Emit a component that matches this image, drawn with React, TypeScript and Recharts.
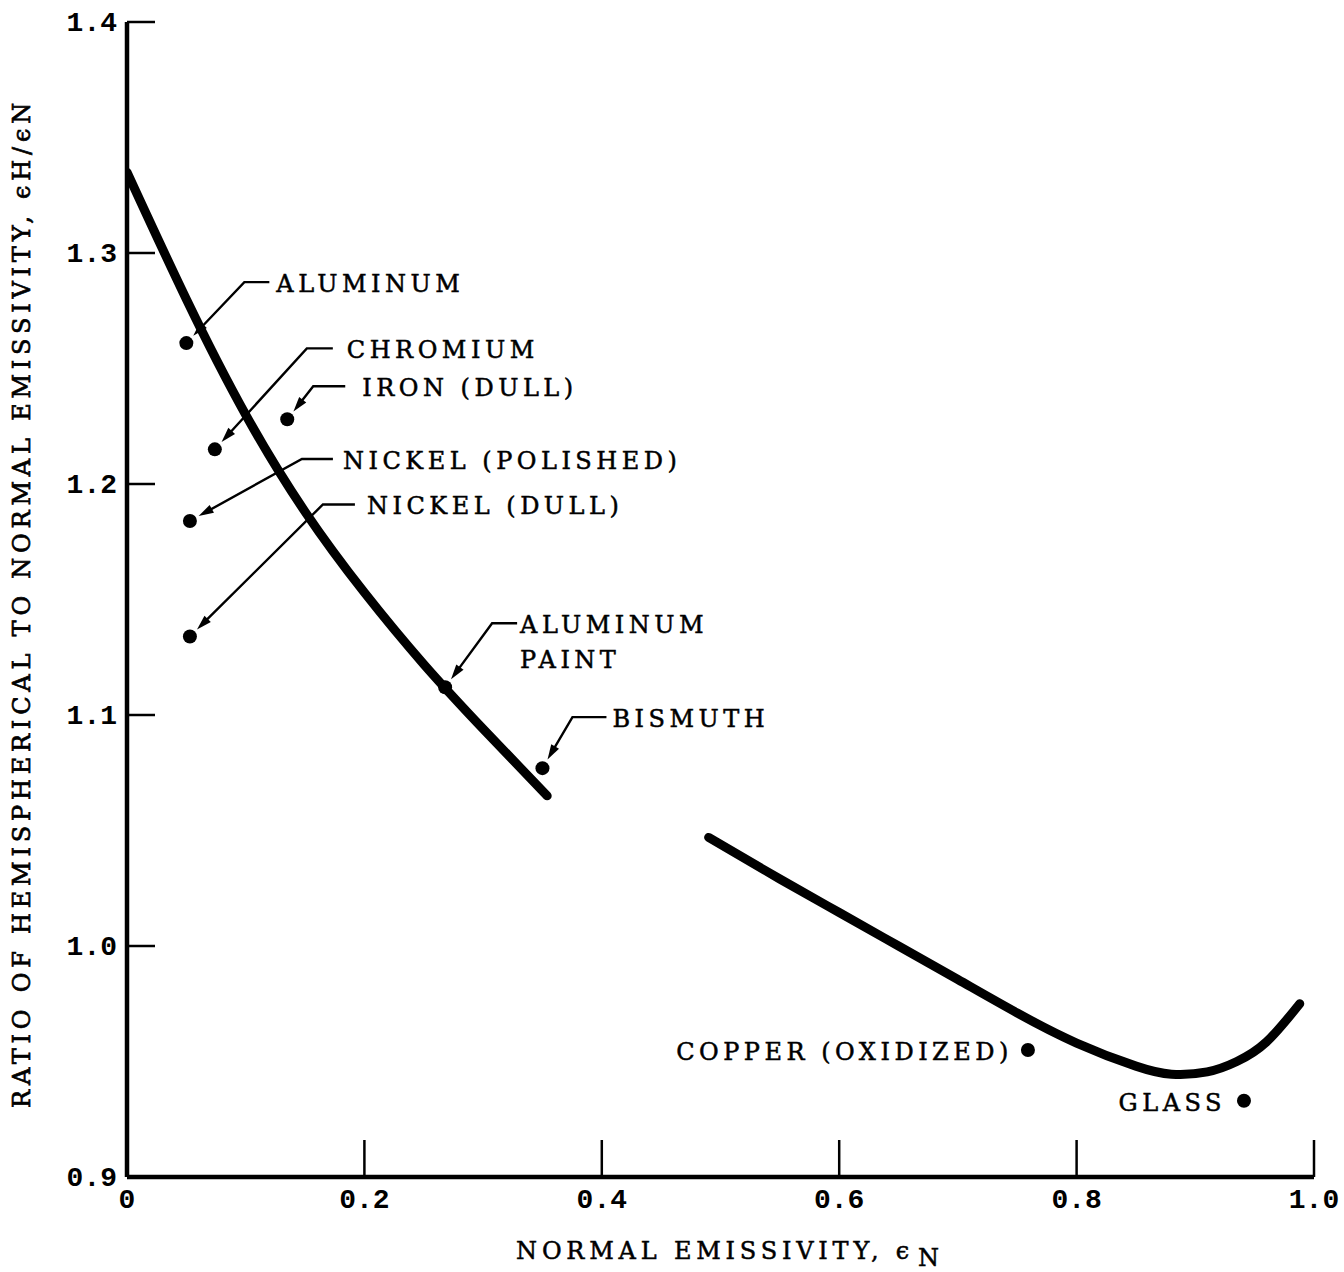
import React from 'react';
import { ComposedChart, Line, Scatter, XAxis, YAxis } from 'recharts';

// ---- data ----
const curveAX = [0, 0.05, 0.1, 0.15, 0.2, 0.25, 0.3, 0.354];
const curveAY = [1.335, 1.28, 1.23, 1.188, 1.153, 1.122, 1.094, 1.065];
const curveBX = [0.49, 0.55, 0.6, 0.65, 0.7, 0.75, 0.8, 0.85, 0.88, 0.91, 0.935, 0.96, 0.988];
const curveBY = [1.047, 1.029, 1.0145, 1.0, 0.9855, 0.971, 0.958, 0.948, 0.9445, 0.9455, 0.95, 0.9585, 0.975];

const materials = ['ALUMINUM', 'CHROMIUM', 'IRON (DULL)', 'NICKEL (POLISHED)', 'NICKEL (DULL)', 'ALUMINUM PAINT', 'BISMUTH', 'COPPER (OXIDIZED)', 'GLASS'];
const matEmissivity = [0.05, 0.074, 0.135, 0.053, 0.053, 0.268, 0.35, 0.759, 0.941];
const matRatio = [1.261, 1.215, 1.228, 1.184, 1.134, 1.112, 1.077, 0.955, 0.933];

const xTicks = [0, 0.2, 0.4, 0.6, 0.8, 1.0];
const yTicks = [0.9, 1.0, 1.1, 1.2, 1.3, 1.4];

const xTitle = 'NORMAL EMISSIVITY, \u03F5';
const xTitleSub = 'N';
const yTitle = 'RATIO OF HEMISPHERICAL TO NORMAL EMISSIVITY, \u03F5H/\u03F5N';

// ---- built tables ----
const curveA = curveAX.map((x, i) => ({ x, y: curveAY[i] }));
const curveB = curveBX.map((x, i) => ({ x, y: curveBY[i] }));
const points = materials.map((name, i) => ({ name, x: matEmissivity[i], y: matRatio[i] }));

// ---- label styling (pixel offsets relative to the dot) ----
type LabelStyle = { elbow?: [number, number]; h?: number; gap?: number; anchor?: 'start' | 'end'; dx?: number; dy?: number; lines?: string[] };
const labelStyle: Record<string, LabelStyle> = {
  'ALUMINUM': { elbow: [58, -61], h: 25, gap: 7 },
  'CHROMIUM': { elbow: [92, -101], h: 26, gap: 14 },
  'IRON (DULL)': { elbow: [26, -33], h: 32, gap: 17 },
  'NICKEL (POLISHED)': { elbow: [112, -62], h: 31, gap: 10 },
  'NICKEL (DULL)': { elbow: [133, -132], h: 32, gap: 12 },
  'ALUMINUM PAINT': { elbow: [47, -64], h: 25, gap: 3, lines: ['ALUMINUM', 'PAINT'] },
  'BISMUTH': { elbow: [30, -51], h: 34, gap: 6 },
  'COPPER (OXIDIZED)': { anchor: 'end', dx: -15, dy: 2 },
  'GLASS': { anchor: 'end', dx: -18, dy: 2 },
};

const LABEL_FONT = '"DejaVu Serif", serif';
const MONO_FONT = '"Liberation Mono", "DejaVu Sans Mono", monospace';

const PointShape = (props: any) => {
  const { cx, cy, payload } = props;
  const st = labelStyle[payload.name] || {};
  const r = 7;
  const els: React.ReactNode[] = [<circle key="d" cx={cx} cy={cy} r={r} fill="#000" />];
  const textProps = {
    fontFamily: LABEL_FONT,
    fontSize: 24,
    letterSpacing: 4.5,
    fill: '#000',
    stroke: '#000',
    strokeWidth: 0.5,
    dominantBaseline: 'central' as const,
  };
  if (st.elbow) {
    const ex = cx + st.elbow[0];
    const ey = cy + st.elbow[1];
    const hx = ex + (st.h || 0);
    const len = Math.hypot(st.elbow[0], st.elbow[1]);
    const ux = st.elbow[0] / len;
    const uy = st.elbow[1] / len;
    const tx = cx + ux * (r + 3);
    const ty = cy + uy * (r + 3);
    const px = -uy;
    const py = ux;
    const al = 15;
    const aw = 4.5;
    els.push(
      <polyline key="l" points={`${hx},${ey} ${ex},${ey} ${tx + ux * 6},${ty + uy * 6}`} fill="none" stroke="#000" strokeWidth={2.4} />
    );
    els.push(
      <polygon key="a" points={`${tx},${ty} ${tx + ux * al + px * aw},${ty + uy * al + py * aw} ${tx + ux * al - px * aw},${ty + uy * al - py * aw}`} fill="#000" />
    );
    const lx = hx + (st.gap || 0);
    const lines = st.lines || [payload.name];
    lines.forEach((ln, i) => {
      els.push(
        <text key={'t' + i} x={lx} y={ey + 2 + i * 35} textAnchor="start" {...textProps}>{ln}</text>
      );
    });
  } else {
    els.push(
      <text key="t" x={cx + (st.dx || 0)} y={cy + (st.dy || 0)} textAnchor={st.anchor || 'start'} {...textProps}>{payload.name}</text>
    );
  }
  return <g>{els}</g>;
};

const fmt = (v: number) => (v === 0 ? '0' : v.toFixed(1));

const YTick = (props: any) => {
  const { x, y, payload } = props;
  const v = payload.value;
  return (
    <g>
      {Math.abs(v - 0.9) > 1e-6 && <line x1={x} x2={x + 28} y1={y} y2={y} stroke="#000" strokeWidth={2.5} />}
      <text x={x - 10} y={y + 1} textAnchor="end" dominantBaseline="central" fontFamily={MONO_FONT} fontWeight="bold" fontSize={28} fill="#000">
        {fmt(v)}
      </text>
    </g>
  );
};

const XTick = (props: any) => {
  const { x, y, payload } = props;
  const v = payload.value;
  return (
    <g>
      {v !== 0 && <line x1={x} x2={x} y1={y} y2={y - 37} stroke="#000" strokeWidth={2.5} />}
      <text x={x} y={y + 23} textAnchor="middle" dominantBaseline="central" fontFamily={MONO_FONT} fontWeight="bold" fontSize={28} fill="#000">
        {fmt(v)}
      </text>
    </g>
  );
};

const XTitle = () => (
  <text x={730} y={1259} textAnchor="middle" fontFamily={LABEL_FONT} fontSize={24} letterSpacing={4.8} fill="#000" stroke="#000" strokeWidth={0.5}>
    {xTitle}
    <tspan dx={4} dy={7}>{xTitleSub}</tspan>
  </text>
);

const YTitle = () => (
  <text transform="translate(22,603) rotate(-90)" textAnchor="middle" dominantBaseline="central" fontFamily={LABEL_FONT} fontSize={24} letterSpacing={4.8} fill="#000" stroke="#000" strokeWidth={0.7}>
    {yTitle}
  </text>
);

export default function App() {
  return (
    <div style={{ position: 'absolute', left: 0, top: 0, width: 1344, height: 1272, background: '#fff' }}>
      <ComposedChart width={1344} height={1272} margin={{ top: 22, right: 30, bottom: 55, left: 67 }}>
        <XAxis
          type="number"
          dataKey="x"
          domain={[0, 1]}
          ticks={xTicks}
          height={40}
          tickSize={0}
          tickMargin={0}
          tickLine={false}
          axisLine={{ stroke: '#000', strokeWidth: 4.5 }}
          tick={<XTick />}
          interval={0}
          allowDataOverflow
          label={{ content: () => <XTitle /> }}
        />
        <YAxis
          type="number"
          dataKey="y"
          domain={[0.9, 1.4]}
          ticks={yTicks}
          width={60}
          tickSize={0}
          tickMargin={0}
          tickLine={false}
          axisLine={{ stroke: '#000', strokeWidth: 4.5 }}
          tick={<YTick />}
          interval={0}
          allowDataOverflow
          label={{ content: () => <YTitle /> }}
        />
        <Line data={curveA} dataKey="y" type="natural" stroke="#000" strokeWidth={9} strokeLinecap="round" dot={false} activeDot={false} isAnimationActive={false} />
        <Line data={curveB} dataKey="y" type="natural" stroke="#000" strokeWidth={9} strokeLinecap="round" dot={false} activeDot={false} isAnimationActive={false} />
        <Scatter data={points} dataKey="y" shape={<PointShape />} isAnimationActive={false} />
      </ComposedChart>
    </div>
  );
}
